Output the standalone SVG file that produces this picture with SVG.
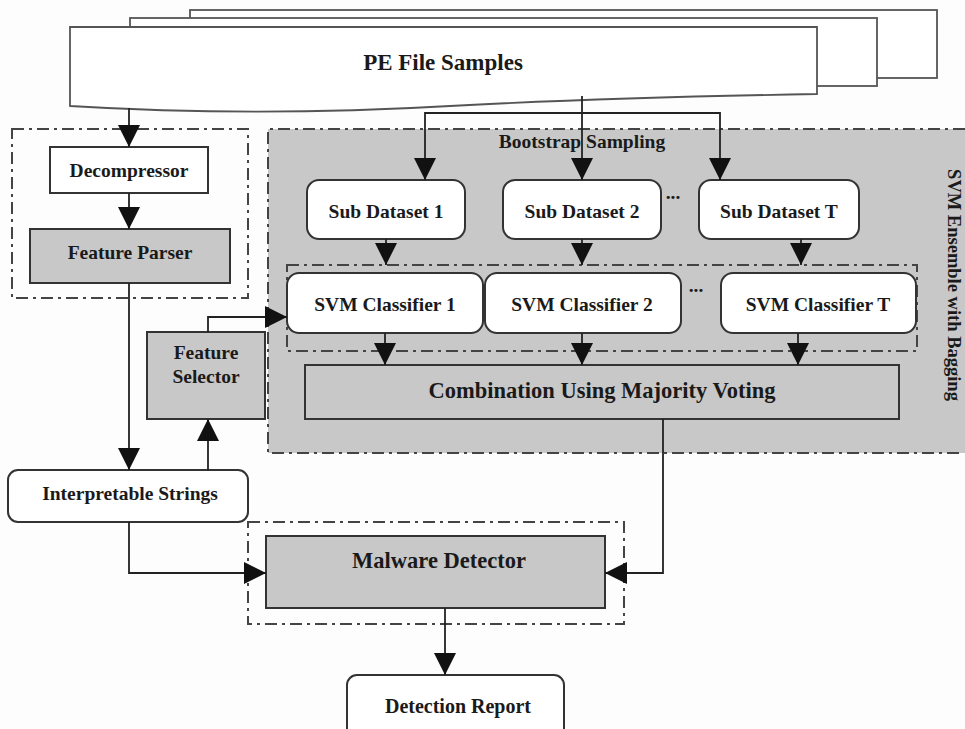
<svg xmlns="http://www.w3.org/2000/svg" width="965" height="729" viewBox="0 0 965 729">
<style>
.bg{fill:#fdfdfd}
.box{stroke:#333;stroke-width:2}
.w{fill:#fff}
.g{fill:#c8c8c8}
.dd{fill:none;stroke:#444;stroke-width:2;stroke-dasharray:12 5 3 5}
.t{font-family:"Liberation Serif","Times New Roman",serif;font-weight:bold;fill:#1a1a1a;text-anchor:middle;font-size:19.5px}
.big{font-size:22.5px}
.c{fill:none;stroke:#222;stroke-width:1.8}
.page{fill:#fff;stroke:#555;stroke-width:1.8}
</style>
<defs>
<marker id="ah" markerUnits="userSpaceOnUse" markerWidth="22" markerHeight="22" refX="22" refY="11" orient="auto" viewBox="0 0 22 22">
<path d="M0,0 L22,11 L0,22 z" fill="#111"/>
</marker>
</defs>
<rect class="bg" x="0" y="0" width="965" height="729"/>

<g id="pe-file-samples">
<rect class="page" x="190" y="10" width="747" height="68"/>
<rect class="page" x="130" y="18" width="747" height="68"/>
<path class="page" d="M70,27 H817 V94 C700,96 560,100 450,106 C330,113 200,114 70,106 Z"/>
<text class="t" x="443" y="70" style="font-size:23px">PE File Samples</text>
</g>

<g id="svm-ensemble">
<rect class="g" x="268" y="129" width="697" height="324"/>
<path class="dd" d="M965,129 H268 V453 H960"/>
<text class="t" transform="translate(948,285) rotate(90)" style="font-size:18.5px">SVM Ensemble with Bagging</text>
<text class="t" x="582" y="148">Bootstrap Sampling</text>
</g>

<g id="preprocess-group">
<rect class="dd" x="12" y="129" width="236" height="169"/>
</g>

<g id="decompressor">
<rect class="box w" x="50" y="147" width="158" height="46"/>
<text class="t" x="129" y="177">Decompressor</text>
</g>

<g id="feature-parser">
<rect class="box g" x="30" y="229" width="200" height="54"/>
<text class="t" x="130" y="259">Feature Parser</text>
</g>

<g id="sub-dataset-1">
<rect class="box w" x="307" y="180" width="158" height="59" rx="12"/>
<text class="t" x="386" y="218">Sub Dataset 1</text>
</g>
<g id="sub-dataset-2">
<rect class="box w" x="503" y="180" width="158" height="59" rx="12"/>
<text class="t" x="582" y="218">Sub Dataset 2</text>
</g>
<text class="t" x="673" y="199">...</text>
<g id="sub-dataset-t">
<rect class="box w" x="699" y="180" width="160" height="59" rx="12"/>
<text class="t" x="779" y="218">Sub Dataset T</text>
</g>

<g id="classifier-group">
<rect class="dd" x="287" y="265" width="630" height="86"/>
</g>
<g id="svm-classifier-1">
<rect class="box w" x="287" y="273" width="196" height="60" rx="12"/>
<text class="t" x="385" y="311">SVM Classifier 1</text>
</g>
<g id="svm-classifier-2">
<rect class="box w" x="485" y="273" width="196" height="60" rx="12"/>
<text class="t" x="582" y="311">SVM Classifier 2</text>
</g>
<text class="t" x="696" y="292">...</text>
<g id="svm-classifier-t">
<rect class="box w" x="721" y="273" width="195" height="60" rx="12"/>
<text class="t" x="818" y="311">SVM Classifier T</text>
</g>

<g id="combination">
<rect class="box g" x="305" y="365" width="594" height="54"/>
<text class="t big" x="602" y="398">Combination Using Majority Voting</text>
</g>

<g id="feature-selector">
<rect class="box g" x="147" y="332" width="118" height="87"/>
<text class="t" x="206" y="359">Feature</text>
<text class="t" x="206" y="383">Selector</text>
</g>

<g id="interpretable-strings">
<rect class="box w" x="8" y="470" width="240" height="52" rx="10"/>
<text class="t" x="130" y="500">Interpretable Strings</text>
</g>

<g id="detector-group">
<rect class="dd" x="248" y="522" width="376" height="102"/>
</g>
<g id="malware-detector">
<rect class="box g" x="266" y="536" width="339" height="72"/>
<text class="t big" x="439" y="568">Malware Detector</text>
</g>

<g id="detection-report">
<rect class="box w" x="347" y="675" width="217" height="70" rx="10"/>
<text class="t" x="458" y="713" style="font-size:20px">Detection Report</text>
</g>

<g id="connectors">
<path class="c" d="M129,108 V147" marker-end="url(#ah)"/>
<path class="c" d="M129,193 V229" marker-end="url(#ah)"/>
<path class="c" d="M129,283 V470" marker-end="url(#ah)"/>
<path class="c" d="M208,470 V419" marker-end="url(#ah)"/>
<path class="c" d="M208,332 V317 H287" marker-end="url(#ah)"/>
<path class="c" d="M582,96 V180" marker-end="url(#ah)"/>
<path class="c" d="M582,113 H425 V180" marker-end="url(#ah)"/>
<path class="c" d="M582,113 H720 V180" marker-end="url(#ah)"/>
<path class="c" d="M386,239 V265" marker-end="url(#ah)"/>
<path class="c" d="M582,239 V265" marker-end="url(#ah)"/>
<path class="c" d="M801,239 V265" marker-end="url(#ah)"/>
<path class="c" d="M385,333 V365" marker-end="url(#ah)"/>
<path class="c" d="M582,333 V365" marker-end="url(#ah)"/>
<path class="c" d="M798,333 V365" marker-end="url(#ah)"/>
<path class="c" d="M663,419 V573 H605" marker-end="url(#ah)"/>
<path class="c" d="M129,522 V573 H266" marker-end="url(#ah)"/>
<path class="c" d="M445,608 V675" marker-end="url(#ah)"/>
</g>
</svg>
